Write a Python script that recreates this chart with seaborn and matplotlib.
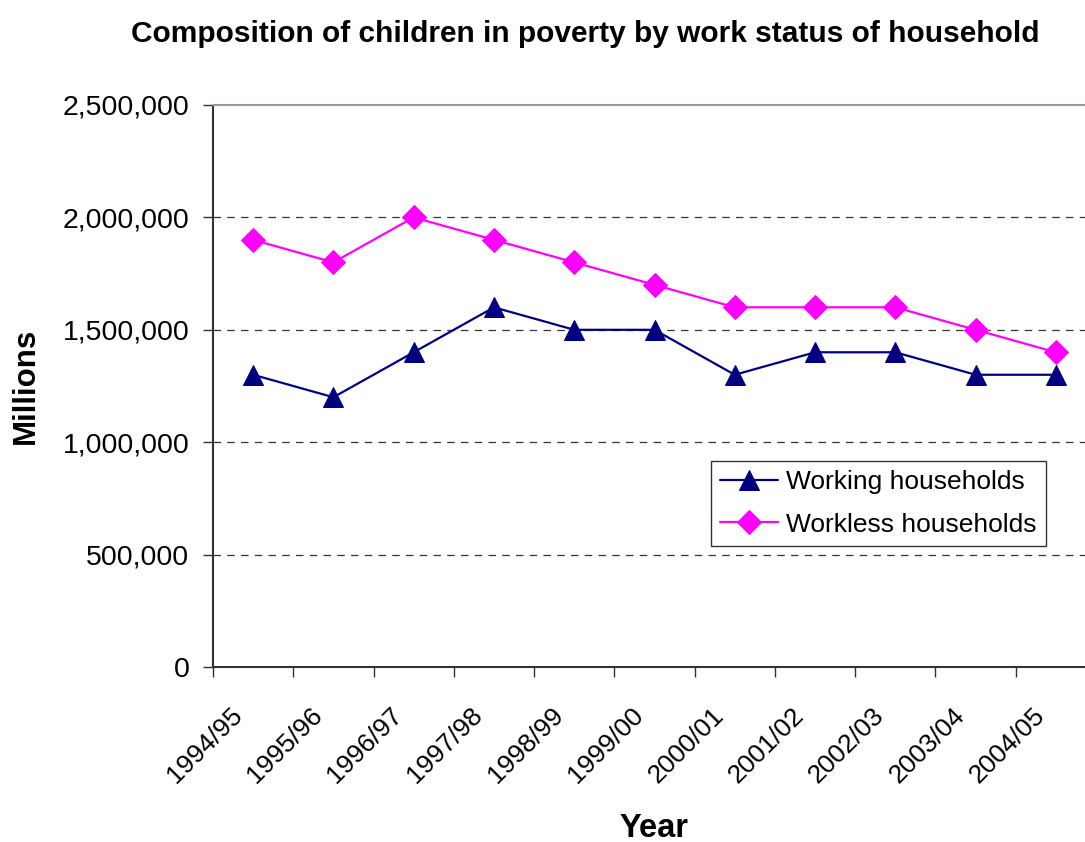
import matplotlib
matplotlib.use("Agg")
import matplotlib.pyplot as plt
import matplotlib.transforms as mtransforms
import seaborn as sns
import pandas as pd
import numpy as np
from matplotlib.ticker import FuncFormatter, FixedLocator

years = ["1994/95", "1995/96", "1996/97", "1997/98", "1998/99", "1999/00",
         "2000/01", "2001/02", "2002/03", "2003/04", "2004/05"]
working = [1300000, 1200000, 1400000, 1600000, 1500000, 1500000,
           1300000, 1400000, 1400000, 1300000, 1300000]
workless = [1900000, 1800000, 2000000, 1900000, 1800000, 1700000,
            1600000, 1600000, 1600000, 1500000, 1400000]
series_names = ["Working households", "Workless households"]
y_ticks = [0, 500000, 1000000, 1500000, 2000000, 2500000]

sns.set_theme(style="white")
plt.rcParams['font.family'] = ['Liberation Sans', 'DejaVu Sans']
plt.rcParams['text.color'] = 'black'
plt.rcParams['axes.labelcolor'] = 'black'
plt.rcParams['xtick.color'] = 'black'
plt.rcParams['ytick.color'] = 'black'

fig = plt.figure(figsize=(10.85, 8.42), dpi=100)
ax = fig.add_axes([213/1085, 1-667/842, 883/1085, 562/842])

pos = np.arange(len(years))
df = pd.DataFrame({"x": np.concatenate([pos, pos]),
                   "y": working + workless,
                   "series": [series_names[0]]*len(years) + [series_names[1]]*len(years)})

sns.lineplot(data=df[df.series == series_names[0]], x="x", y="y", ax=ax,
             color="#000080", marker="^", markersize=14, linewidth=1.6,
             markeredgecolor="#000080", label=series_names[0])
sns.lineplot(data=df[df.series == series_names[1]], x="x", y="y", ax=ax,
             color="#FF00FF", marker="D", markersize=12.5, linewidth=1.6,
             markeredgecolor="#FF00FF", label=series_names[1])

ax.set_xlim(-0.5, len(years) - 0.5)
ax.set_ylim(0, 2500000)
ax.set_yticks(y_ticks)
ax.yaxis.set_major_formatter(FuncFormatter(lambda v, p: f"{int(v):,}"))
for yv in y_ticks[1:-1]:
    ax.axhline(yv, color="#333333", linestyle=(0, (6, 5)), linewidth=0.9, zorder=0)

ax.set_xticks(pos)
ax.xaxis.set_minor_locator(FixedLocator(np.arange(-0.5, len(years), 1.0)))
ax.tick_params(axis="x", which="major", length=0, pad=32, labelsize=19)
ax.tick_params(axis="x", which="minor", length=7, width=1, color="#333333", direction="out", bottom=True)
ax.tick_params(axis="y", length=7, width=1, color="#333333", direction="out", left=True, labelsize=20.5, pad=10)
ax.set_xticklabels(years, rotation=45, ha="right", va="center", rotation_mode="anchor")
shift = mtransforms.ScaledTranslation(-15/100, 0, fig.dpi_scale_trans)
for lbl in ax.get_xticklabels():
    lbl.set_transform(lbl.get_transform() + shift)

for s in ["left", "bottom"]:
    ax.spines[s].set_color("#333333")
    ax.spines[s].set_linewidth(1.5)
ax.spines["top"].set_color("#999999")
ax.spines["top"].set_linewidth(1.5)
ax.spines["right"].set_visible(False)

ax.set_xlabel("Year", fontsize=23.5, fontweight="bold", labelpad=18)
ax.set_ylabel("Millions", fontsize=22.5, fontweight="bold", labelpad=16)
fig.text(585/1085, 1-34/842, "Composition of children in poverty by work status of household",
         ha="center", va="center", fontsize=21.5, fontweight="bold")

leg = ax.legend(loc="upper left", bbox_to_anchor=(711/1085, 1-461/842),
                bbox_transform=fig.transFigure, fontsize=19, frameon=True,
                fancybox=False, edgecolor="black", borderpad=0.35,
                handlelength=2.2, handletextpad=0.3, labelspacing=0.7, borderaxespad=0)
leg.get_frame().set_linewidth(1.0)

fig.savefig("out.png", dpi=100)
